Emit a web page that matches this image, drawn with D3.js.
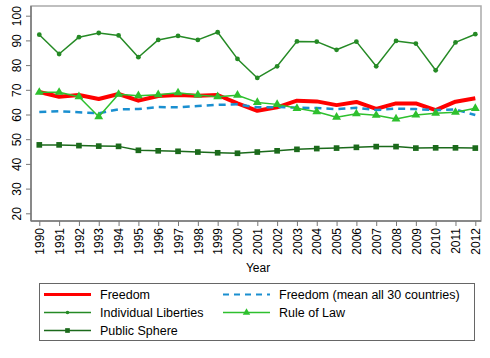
<!DOCTYPE html>
<html><head><meta charset="utf-8">
<script src="https://cdn.jsdelivr.net/npm/d3@7"></script>
<style>body{margin:0;background:#fff}svg{display:block;font-family:"Liberation Sans",Arial,sans-serif}</style>
</head><body><svg id="c" width="490" height="358"></svg>
<script>
const years = d3.range(1990, 2013);
const freedom = [69.1,67.2,67.9,66.3,68.3,65.6,67.5,67.9,67.6,67.9,64.5,61.5,62.9,65.6,65.3,63.8,65.1,62.3,64.5,64.5,61.8,65.2,66.6];
const freedomMean = [61.0,61.3,60.9,60.5,62.1,62.2,63.0,62.9,63.4,63.9,64.1,62.9,63.0,62.8,62.6,62.2,62.7,61.8,62.4,62.2,61.8,62.0,59.8];
const individualLiberties = [92.3,84.5,91.3,93.0,92.0,83.2,90.2,91.8,90.2,93.3,82.5,74.8,79.5,89.6,89.5,86.2,89.5,79.5,89.8,88.7,77.9,89.2,92.5];
const ruleOfLaw = [69.0,69.0,67.2,59.1,68.2,67.6,68.0,68.8,67.9,67.2,67.8,64.9,64.1,62.5,61.1,58.9,60.3,59.7,58.2,59.8,60.5,60.9,62.5];
const publicSphere = [47.7,47.7,47.4,47.2,47.1,45.5,45.3,45.1,44.8,44.5,44.3,44.8,45.3,45.9,46.2,46.4,46.7,47.0,47.0,46.4,46.5,46.5,46.4];
const yTicks = [20,30,40,50,60,70,80,90,100];
const legendLabels = ["Freedom","Freedom (mean all 30 countries)","Individual Liberties","Rule of Law","Public Sphere"];

const svg = d3.select("#c");
const x = d3.scaleLinear().domain([1990,2012]).range([39.3,475.3]);
const y = d3.scaleLinear().domain([20,100]).range([213.3,15.7]);
const L=31, R=481, T=6, B=221;

svg.append("rect").attr("x",L).attr("y",T).attr("width",R-L).attr("height",B-T)
  .attr("fill","#fff").attr("stroke","#aaa").attr("stroke-width",1.5);

const ya = svg.append("g").attr("transform",`translate(${L},0)`)
  .call(d3.axisLeft(y).tickValues(yTicks).tickSize(5).tickPadding(3));
ya.select(".domain").attr("stroke","#777").attr("stroke-width",1.5).attr("d",`M0,${T}V${B}`);
ya.selectAll(".tick line").attr("stroke","#777");
ya.selectAll(".tick text").attr("transform","rotate(-90)").attr("x",0).attr("y",-10)
  .attr("dy","0").attr("text-anchor","middle").attr("font-size",12).attr("fill","#000");

const xa = svg.append("g").attr("transform",`translate(0,${B})`)
  .call(d3.axisBottom(x).tickValues(years).tickFormat(d3.format("d")).tickSize(5));
xa.select(".domain").attr("stroke","#777").attr("stroke-width",1.5).attr("d",`M${L},0H${R}`);
xa.selectAll(".tick line").attr("stroke","#777");
xa.selectAll(".tick text").attr("transform","rotate(-90)").attr("x",-7).attr("y",0)
  .attr("dy","0.35em").attr("text-anchor","end").attr("font-size",12).attr("fill","#000");

svg.append("text").attr("x",258).attr("y",272).attr("text-anchor","middle").attr("font-size",12).text("Year");

const line = d3.line().x((d,i)=>x(years[i])).y(d=>y(d));
const series = [
  {v:freedom,color:"#ff0000",w:4,dash:null,m:null},
  {v:freedomMean,color:"#1a8fd0",w:2.5,dash:"7,5",m:null},
  {v:individualLiberties,color:"#258a25",w:1.5,dash:null,m:"circle"},
  {v:ruleOfLaw,color:"#2ec02e",w:1.5,dash:null,m:"triangle"},
  {v:publicSphere,color:"#1b6a1b",w:1.5,dash:null,m:"square"}
];
const sym = {circle:d3.symbol(d3.symbolCircle,18), triangle:d3.symbol(d3.symbolTriangle,34), square:d3.symbol(d3.symbolSquare,32)};
const symL = {circle:d3.symbol(d3.symbolCircle,10), triangle:d3.symbol(d3.symbolTriangle,24), square:d3.symbol(d3.symbolSquare,22)};
series.forEach(s=>{
  svg.append("path").attr("d",line(s.v)).attr("fill","none").attr("stroke",s.color)
    .attr("stroke-width",s.w).attr("stroke-dasharray",s.dash).attr("stroke-linejoin","round");
  if(s.m){
    svg.append("g").selectAll("path").data(s.v).join("path")
      .attr("transform",(d,i)=>`translate(${x(years[i])},${y(d)})`)
      .attr("d",sym[s.m]()).attr("fill",s.color);
  }
});

const lg = svg.append("g");
lg.append("rect").attr("x",39.5).attr("y",283.5).attr("width",435).attr("height",57).attr("fill","#fff").attr("stroke","#666");
const pos = [[44,294.5],[223,294.5],[44,312.5],[223,312.5],[44,330.5]];
series.forEach((s,i)=>{
  const [lx,ly]=pos[i];
  lg.append("line").attr("x1",lx).attr("x2",lx+47).attr("y1",ly).attr("y2",ly).attr("stroke",s.color)
    .attr("stroke-width",s.w===4?3:(s.w===2.5?2:1.5)).attr("stroke-dasharray",s.dash?"6,5":null);
  if(s.m) lg.append("path").attr("transform",`translate(${lx+23.5},${ly})`).attr("d",symL[s.m]()).attr("fill",s.color);
  lg.append("text").attr("x",lx+56).attr("y",ly).attr("dy","0.35em").attr("font-size",12.5).text(legendLabels[i]);
});
</script></body></html>
